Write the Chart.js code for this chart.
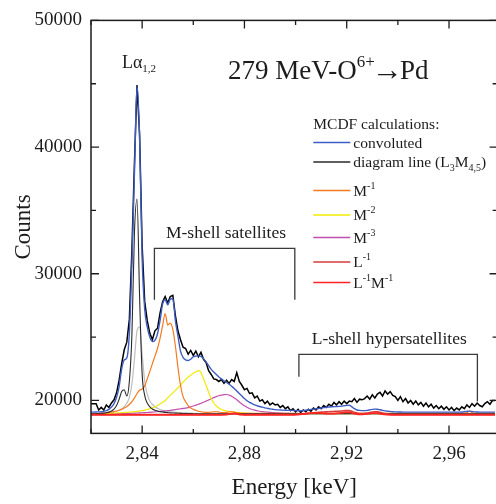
<!DOCTYPE html>
<html>
<head>
<meta charset="utf-8">
<script src="https://cdn.jsdelivr.net/npm/chart.js@4/dist/chart.umd.min.js"></script>
<style>
  html, body { margin: 0; padding: 0; background: #fff; overflow: hidden; }
  #wrap { position: relative; width: 500px; height: 504px; }
</style>
</head>
<body>
<div id="wrap"><canvas id="spectrum"></canvas></div>
<script>
// Energy grid of the spectrum (keV), 1 eV sampling
const energyStart = 2.820;
const energyStep = 0.001;
const energyPoints = 159;
const energy = Array.from({ length: energyPoints }, (_, i) => +(energyStart + i * energyStep).toFixed(3));

// Axis ticks
const energyTickValues = [2.84, 2.88, 2.92, 2.96];
const energyTickLabels = ['2,84', '2,88', '2,92', '2,96'];
const energyMinorTicks = [2.82, 2.86, 2.90, 2.94];
const countTickValues = [20000, 30000, 40000, 50000];
const countTickLabels = ['20000', '30000', '40000', '50000'];
const countMinorTicks = [25000, 35000, 45000];

// Measured spectrum (counts)
const measuredCounts = [
  19750, 19750, 19750, 19250, 19450, 19250, 19650, 19450, 19800, 20050,
  20600, 21600, 22900, 24000, 24600, 26400, 31900, 38800, 44900, 41000,
  32200, 27800, 26300, 25300, 24800, 25500, 25700, 26900, 27800, 28200,
  27700, 28200, 28300, 26700, 25500, 24800, 24200, 24100, 23650, 23950,
  23550, 23900, 23450, 23800, 23250, 23000, 22350, 22050, 21700, 21650,
  21500, 21650, 21350, 21600, 21350, 21650, 21500, 22200, 21500, 21200,
  20850, 20950, 20550, 20600, 20200, 20350, 19950, 20050, 19750, 19950,
  19650, 19800, 19650, 19700, 19450, 19600, 19350, 19500, 19200, 19350,
  19100, 19300, 19050, 19250, 19100, 19300, 19150, 19400, 19250, 19500,
  19350, 19600, 19450, 19700, 19550, 19850, 19650, 19900, 19700, 19950,
  19750, 19950, 19900, 20150, 19850, 20100, 20050, 20150, 20350, 20100,
  20450, 20200, 20500, 20650, 20350, 20750, 20500, 20700, 20400, 20300,
  20000, 20300, 19900, 20150, 19800, 20000, 19700, 19950, 19650, 19850,
  19550, 19800, 19500, 19700, 19400, 19600, 19350, 19550, 19300, 19500,
  19250, 19450, 19200, 19400, 19250, 19500, 19350, 19650, 19450, 19750,
  19550, 19800, 19600, 19500, 19750, 19900, 19700, 20000, 20000
];

// MCDF calculations (counts)
const convoluted = [
  19080, 19080, 19090, 19100, 19110, 19150, 19200, 19300, 19480, 19750,
  20250, 21100, 22500, 23200, 23350, 25300, 30800, 38000, 44850, 40800,
  31200, 27200, 25800, 25000, 24650, 24750, 25250, 26300, 27600, 27950,
  27550, 28000, 28050, 26300, 25100, 23900, 23400, 23200, 23150, 23250,
  23450, 23500, 23520, 23480, 23300, 23050, 22750, 22450, 22250, 22050,
  21850, 21700, 21550, 21420, 21280, 21120, 20950, 20750, 20550, 20350,
  20150, 19980, 19850, 19750, 19650, 19580, 19520, 19470, 19420, 19380,
  19340, 19310, 19280, 19260, 19250, 19240, 19230, 19220, 19220, 19210,
  19200, 19190, 19190, 19200, 19230, 19270, 19300, 19320, 19340, 19370,
  19400, 19430, 19460, 19480, 19500, 19510, 19520, 19530, 19550, 19580,
  19610, 19620, 19500, 19350, 19250, 19220, 19200, 19200, 19220, 19260,
  19300, 19320, 19310, 19270, 19220, 19180, 19150, 19130, 19110, 19100,
  19090, 19090, 19080, 19080, 19080, 19080, 19080, 19080, 19080, 19080,
  19080, 19080, 19080, 19080, 19080, 19080, 19080, 19080, 19080, 19080,
  19080, 19080, 19080, 19080, 19080, 19090, 19110, 19140, 19160, 19130,
  19100, 19090, 19080, 19080, 19080, 19080, 19080, 19080, 19080
];

const diagramLine = [
  18950, 18950, 18960, 18970, 18980, 19000, 19030, 19080, 19170, 19320,
  19600, 20100, 20700, 20850, 20350, 21500, 25200, 33300, 35900, 28200,
  22100, 20400, 19800, 19500, 19330, 19230, 19170, 19120, 19090, 19060,
  19040, 19020, 19010, 19000, 18990, 18980, 18975, 18970, 18965, 18960,
  18955, 18950, 18950, 18950, 18950, 18950, 18950, 18950, 18950, 18950,
  18950, 18950, 18950, 18950, 18950, 18950, 18950, 18950, 18950, 18950,
  18950, 18950, 18950, 18950, 18950, 18950, 18950, 18950, 18950, 18950,
  18950, 18950, 18950, 18950, 18950, 18950, 18950, 18950, 18950, 18950,
  18950, 18950, 18950, 18950, 18950, 18950, 18950, 18950, 18950, 18950,
  18950, 18950, 18950, 18950, 18950, 18950, 18950, 18950, 18950, 18950,
  18950, 18950, 18950, 18950, 18950, 18950, 18950, 18950, 18950, 18950,
  18950, 18950, 18950, 18950, 18950, 18950, 18950, 18950, 18950, 18950,
  18950, 18950, 18950, 18950, 18950, 18950, 18950, 18950, 18950, 18950,
  18950, 18950, 18950, 18950, 18950, 18950, 18950, 18950, 18950, 18950,
  18950, 18950, 18950, 18950, 18950, 18950, 18950, 18950, 18950, 18950,
  18950, 18950, 18950, 18950, 18950, 18950, 18950, 18950, 18950
];

const greyComponent = [
  18950, 18960, 18970, 18980, 18990, 19000, 19020, 19040, 19070, 19100,
  19150, 19230, 19350, 19520, 19780, 20250, 21300, 23300, 25500, 25800,
  23700, 21500, 20500, 19950, 19700, 19500, 19380, 19290, 19220, 19170,
  19140, 19110, 19090, 19070, 19050, 19040, 19030, 19020, 19010, 19000,
  18990, 18980, 18970, 18960, 18955, 18950, 18950, 18950, 18950, 18950,
  18950, 18950, 18950, 18950, 18950, 18950, 18950, 18950, 18950, 18950,
  18950, 18950, 18950, 18950, 18950, 18950, 18950, 18950, 18950, 18950,
  18950, 18950, 18950, 18950, 18950, 18950, 18950, 18950, 18950, 18950,
  18950, 18950, 18950, 18950, 18950, 18950, 18950, 18950, 18950, 18950,
  18950, 18950, 18950, 18950, 18950, 18950, 18950, 18950, 18950, 18950,
  18950, 18950, 18950, 18950, 18950, 18950, 18950, 18950, 18950, 18950,
  18950, 18950, 18950, 18950, 18950, 18950, 18950, 18950, 18950, 18950,
  18950, 18950, 18950, 18950, 18950, 18950, 18950, 18950, 18950, 18950,
  18950, 18950, 18950, 18950, 18950, 18950, 18950, 18950, 18950, 18950,
  18950, 18950, 18950, 18950, 18950, 18950, 18950, 18950, 18950, 18950,
  18950, 18950, 18950, 18950, 18950, 18950, 18950, 18950, 18950
];

const mMinus1 = [
  18950, 18950, 18960, 18970, 18980, 19000, 19020, 19050, 19080, 19120,
  19170, 19230, 19300, 19400, 19520, 19680, 19900, 20200, 20550, 20800,
  20900, 21150, 21700, 22300, 22900, 23500, 24100, 24900, 25900, 26850,
  25950, 26100, 25600, 24300, 22600, 21200, 20300, 19900, 19600, 19400,
  19300, 19220, 19150, 19110, 19080, 19060, 19060, 19080, 19100, 19110,
  19080, 19050, 19040, 19060, 19090, 19110, 19080, 19040, 19010, 18990,
  18980, 18980, 18980, 18980, 18980, 18980, 18980, 18980, 18980, 18980,
  18980, 18980, 18980, 18980, 18980, 18980, 18980, 18980, 18980, 18980,
  18980, 18980, 18980, 18980, 18980, 18980, 18980, 18980, 18980, 18980,
  18980, 18980, 18980, 18980, 18980, 18980, 18980, 18980, 18980, 18980,
  18980, 18980, 18980, 18980, 18980, 18980, 18980, 18980, 18980, 18980,
  18980, 18980, 18980, 18980, 18980, 18980, 18980, 18980, 18980, 18980,
  18980, 18980, 18980, 18980, 18980, 18980, 18980, 18980, 18980, 18980,
  18980, 18980, 18980, 18980, 18980, 18980, 18980, 18980, 18980, 18980,
  18980, 18980, 18980, 18980, 18980, 18980, 18980, 19050, 19150, 19050,
  18990, 18980, 18980, 18980, 18980, 18980, 18980, 18980, 18980
];

const mMinus2 = [
  18950, 18950, 18955, 18960, 18965, 18970, 18975, 18980, 18990, 19000,
  19010, 19020, 19030, 19040, 19060, 19080, 19100, 19120, 19140, 19170,
  19200, 19240, 19290, 19350, 19420, 19500, 19600, 19720, 19850, 20000,
  20200, 20400, 20600, 20800, 21000, 21200, 21450, 21650, 21850, 22000,
  22150, 22270, 22350, 22200, 21700, 21200, 20650, 20150, 19800, 19560,
  19400, 19290, 19220, 19170, 19130, 19100, 19080, 19060, 19040, 19020,
  19000, 18990, 18980, 18970, 18960, 18955, 18950, 18950, 18950, 18950,
  18950, 18950, 18950, 18950, 18950, 18950, 18950, 18950, 18950, 18950,
  18950, 18950, 18950, 18950, 18950, 18950, 18950, 18950, 18950, 18950,
  18950, 18950, 18950, 18950, 18950, 18950, 18950, 18950, 18950, 18950,
  18950, 18950, 18950, 18950, 18950, 18950, 18950, 18950, 18950, 18950,
  18950, 18950, 18950, 18950, 18950, 18950, 18950, 18950, 18950, 18950,
  18950, 18950, 18950, 18950, 18950, 18950, 18950, 18950, 18950, 18950,
  18950, 18950, 18950, 18950, 18950, 18950, 18950, 18950, 18950, 18950,
  18950, 18950, 18950, 18950, 18950, 18950, 18950, 18950, 18950, 18950,
  18950, 18950, 18950, 18950, 18950, 18950, 18950, 18950, 18950
];

const mMinus3 = [
  18950, 18950, 18950, 18950, 18950, 18950, 18950, 18950, 18950, 18950,
  18955, 18960, 18965, 18970, 18975, 18980, 18990, 19000, 19010, 19020,
  19030, 19040, 19050, 19060, 19080, 19100, 19120, 19140, 19160, 19180,
  19200, 19220, 19250, 19280, 19310, 19340, 19370, 19400, 19440, 19500,
  19560, 19630, 19700, 19780, 19860, 19950, 20040, 20130, 20220, 20300,
  20370, 20420, 20460, 20470, 20420, 20330, 20200, 20060, 19880, 19720,
  19580, 19460, 19360, 19290, 19240, 19190, 19150, 19120, 19100, 19080,
  19060, 19040, 19030, 19020, 19010, 19000, 18990, 18980, 18970, 18960,
  18955, 18950, 18950, 18950, 18950, 18950, 18950, 18950, 18950, 18950,
  18950, 18950, 18950, 18950, 18950, 18950, 18950, 18950, 18950, 18950,
  18950, 18950, 18950, 18950, 18950, 18950, 18950, 18950, 18950, 18950,
  18950, 18950, 18950, 18950, 18950, 18950, 18950, 18950, 18950, 18950,
  18950, 18950, 18950, 18950, 18950, 18950, 18950, 18950, 18950, 18950,
  18950, 18950, 18950, 18950, 18950, 18950, 18950, 18950, 18950, 18950,
  18950, 18950, 18950, 18950, 18950, 18950, 18950, 18950, 18950, 18950,
  18950, 18950, 18950, 18950, 18950, 18950, 18950, 18950, 18950
];

const lMinus1 = [
  18890, 18890, 18890, 18890, 18890, 18890, 18890, 18890, 18890, 18890,
  18890, 18890, 18890, 18890, 18890, 18890, 18890, 18890, 18890, 18890,
  18890, 18890, 18890, 18890, 18890, 18890, 18890, 18890, 18890, 18890,
  18890, 18890, 18890, 18890, 18890, 18890, 18890, 18890, 18890, 18890,
  18890, 18890, 18890, 18890, 18890, 18890, 18890, 18890, 18890, 18890,
  18890, 18890, 18890, 18900, 18920, 18940, 18950, 18930, 18900, 18890,
  18890, 18890, 18890, 18890, 18890, 18890, 18890, 18890, 18890, 18890,
  18890, 18890, 18890, 18890, 18890, 18890, 18890, 18890, 18890, 18890,
  18900, 18910, 18920, 18940, 18960, 18980, 19000, 19020, 19040, 19060,
  19080, 19090, 19100, 19110, 19120, 19130, 19140, 19150, 19170, 19190,
  19210, 19200, 19140, 19060, 19000, 18970, 18960, 18980, 19010, 19050,
  19090, 19110, 19100, 19060, 19010, 18960, 18930, 18910, 18900, 18890,
  18890, 18890, 18890, 18890, 18890, 18890, 18890, 18890, 18890, 18890,
  18890, 18890, 18890, 18890, 18890, 18890, 18890, 18890, 18890, 18890,
  18890, 18890, 18890, 18890, 18890, 18890, 18890, 18890, 18890, 18890,
  18890, 18890, 18890, 18890, 18890, 18890, 18890, 18890, 18890
];

const lMinus1mMinus1 = [
  18860, 18860, 18860, 18860, 18860, 18860, 18860, 18860, 18860, 18860,
  18860, 18860, 18860, 18860, 18860, 18860, 18860, 18860, 18860, 18860,
  18860, 18860, 18860, 18860, 18860, 18860, 18860, 18860, 18860, 18860,
  18860, 18860, 18860, 18860, 18860, 18860, 18860, 18860, 18860, 18860,
  18860, 18860, 18860, 18860, 18860, 18860, 18860, 18860, 18860, 18860,
  18860, 18860, 18870, 18890, 18920, 18960, 18980, 18950, 18900, 18870,
  18860, 18860, 18860, 18860, 18860, 18860, 18860, 18860, 18860, 18860,
  18860, 18860, 18860, 18860, 18860, 18860, 18860, 18860, 18860, 18860,
  18870, 18880, 18900, 18920, 18950, 18980, 19000, 19020, 19030, 19020,
  19000, 18980, 18960, 18950, 18950, 18960, 18980, 19000, 19030, 19060,
  19080, 19070, 19020, 18960, 18920, 18900, 18900, 18910, 18930, 18960,
  18990, 19000, 18990, 18960, 18920, 18890, 18870, 18860, 18860, 18860,
  18860, 18860, 18860, 18860, 18860, 18860, 18860, 18860, 18860, 18860,
  18860, 18860, 18860, 18860, 18860, 18860, 18860, 18860, 18860, 18860,
  18860, 18860, 18860, 18860, 18860, 18860, 18860, 18860, 18860, 18860,
  18860, 18860, 18860, 18860, 18860, 18860, 18860, 18860, 18860
];

const serif = '"Liberation Serif", "Times New Roman", serif';
const ink = '#1c1c1c';

const toPoints = values => energy.map((e, i) => ({ x: e, y: values[i] }));

function curve(label, values, color, width, smooth) {
  return {
    label,
    data: toPoints(values),
    borderColor: color,
    borderWidth: width,
    pointRadius: 0,
    fill: false,
    tension: 0,
    cubicInterpolationMode: smooth ? 'monotone' : 'default'
  };
}

// First dataset is painted last (on top)
const datasets = [
  curve('L-1M-1', lMinus1mMinus1, '#ff2424', 1.6, true),
  curve('L-1', lMinus1, '#d83a3a', 1.6, true),
  curve('convoluted', convoluted, '#3d5cc4', 1.4, true),
  curve('diagram line', diagramLine, '#2a2a2a', 1.1, true),
  curve('measured', measuredCounts, '#000000', 1.5, false),
  curve('M-1', mMinus1, '#f47a1f', 1.2, true),
  curve('M-2', mMinus2, '#f2ea00', 1.2, true),
  curve('M-3', mMinus3, '#c24fb0', 1.2, true),
  curve('grey', greyComponent, '#bdbdbd', 1.2, true)
];

// Rich text: parts with optional sub/superscript, own size and kerning
function drawParts(ctx, x, y, parts, size) {
  let cx = x;
  for (const p of parts) {
    const s = p.size || (p.sup || p.sub ? Math.round(size * 0.62) : size);
    const dy = p.sup ? -size * 0.42 : p.sub ? size * 0.25 : (p.dy || 0);
    cx += p.kernBefore || 0;
    ctx.font = `${s}px ${serif}`;
    ctx.fillText(p.t, cx, y + dy);
    cx += ctx.measureText(p.t).width + (p.kernAfter || 0);
  }
  return cx;
}

const legendRows = [
  { ds: 2, parts: [{ t: 'convoluted' }] },
  { ds: 3, parts: [{ t: 'diagram line (L' }, { t: '3', sub: true }, { t: 'M' }, { t: '4,5', sub: true }, { t: ')' }] },
  { ds: 5, parts: [{ t: 'M' }, { t: '-1', sup: true }] },
  { ds: 6, parts: [{ t: 'M' }, { t: '-2', sup: true }] },
  { ds: 7, parts: [{ t: 'M' }, { t: '-3', sup: true }] },
  { ds: 1, parts: [{ t: 'L' }, { t: '-1', sup: true }] },
  { ds: 0, parts: [{ t: 'L' }, { t: '-1', sup: true }, { t: 'M' }, { t: '-1', sup: true }] }
];
const legendRowY = [142.5, 162, 190.5, 215, 237.5, 262, 282.5];

// Region brackets in data coordinates
const brackets = [
  [[2.8448, 27950], [2.8448, 32000], [2.8997, 32000], [2.8997, 27950]],
  [[2.9013, 21870], [2.9013, 23640], [2.9711, 23640], [2.9711, 19920]]
];

const decorations = {
  id: 'decorations',
  afterDatasetsDraw(chart) {
    const { ctx, chartArea: a, scales: { x, y } } = chart;
    ctx.save();

    // frame
    ctx.strokeStyle = ink;
    ctx.lineWidth = 1.5;
    ctx.strokeRect(a.left, a.top, a.right - a.left, a.bottom - a.top);

    // inward tick marks on all four sides
    ctx.lineWidth = 1.3;
    const tick = (vals, len) => {
      for (const v of vals) {
        const px = x.getPixelForValue(v);
        if (px < a.left - 0.5 || px > a.right + 0.5) continue;
        ctx.beginPath();
        ctx.moveTo(px, a.bottom); ctx.lineTo(px, a.bottom - len);
        ctx.moveTo(px, a.top); ctx.lineTo(px, a.top + len);
        ctx.stroke();
      }
    };
    const tickY = (vals, len) => {
      for (const v of vals) {
        const py = y.getPixelForValue(v);
        ctx.beginPath();
        ctx.moveTo(a.left, py); ctx.lineTo(a.left + len, py);
        ctx.moveTo(a.right, py); ctx.lineTo(a.right - len, py);
        ctx.stroke();
      }
    };
    tick(energyTickValues, 8);
    tick(energyMinorTicks, 4.5);
    tickY(countTickValues, 8);
    tickY(countMinorTicks, 5);

    // brackets
    ctx.strokeStyle = '#3a3a3a';
    ctx.lineWidth = 1.3;
    for (const b of brackets) {
      ctx.beginPath();
      b.forEach(([ex, cy], i) => {
        const px = x.getPixelForValue(ex), py = y.getPixelForValue(cy);
        if (i === 0) ctx.moveTo(px, py); else ctx.lineTo(px, py);
      });
      ctx.stroke();
    }

    ctx.fillStyle = ink;
    ctx.textBaseline = 'alphabetic';
    ctx.textAlign = 'left';

    // peak label and title
    drawParts(ctx, x.getPixelForValue(2.8321), y.getPixelForValue(46260),
      [{ t: 'Lα' }, { t: '1,2', sub: true }], 18);
    drawParts(ctx, x.getPixelForValue(2.8736), y.getPixelForValue(45400),
      [{ t: '279 MeV-O' }, { t: '6+', sup: true },
       { t: '→', size: 31, dy: 1, kernBefore: -3, kernAfter: -3 }, { t: 'Pd' }], 27);

    // region labels
    ctx.font = `17.5px ${serif}`;
    ctx.fillText('M-shell satellites', x.getPixelForValue(2.8493), y.getPixelForValue(32857));
    ctx.fillText('L-shell hypersatellites', x.getPixelForValue(2.9063), y.getPixelForValue(24418));

    // legend
    const lx = 313.3;
    ctx.font = `15.5px ${serif}`;
    ctx.fillText('MCDF calculations:', lx, 128.5);
    legendRows.forEach((row, i) => {
      const ly = legendRowY[i];
      const ds = chart.data.datasets[row.ds];
      ctx.strokeStyle = ds.borderColor;
      ctx.lineWidth = 1.3;
      ctx.beginPath();
      ctx.moveTo(lx, ly); ctx.lineTo(lx + 37, ly);
      ctx.stroke();
      ctx.fillStyle = ink;
      drawParts(ctx, lx + 40, ly + 5, row.parts, 15.5);
    });

    ctx.restore();
  }
};

new Chart(document.getElementById('spectrum'), {
  type: 'line',
  data: { datasets },
  options: {
    responsive: true,
    maintainAspectRatio: false,
    animation: false,
    devicePixelRatio: 1,
    layout: { padding: { top: 15, right: 2.4, left: 0, bottom: 0 } },
    plugins: { legend: { display: false }, title: { display: false }, tooltip: { enabled: false } },
    scales: {
      x: {
        type: 'linear',
        min: 2.82,
        max: 2.979,
        afterFit(s) { s.height = 70.6; },
        afterBuildTicks(s) { s.ticks = energyTickValues.map(v => ({ value: v })); },
        grid: { display: false, drawTicks: false },
        border: { display: false },
        ticks: {
          padding: 9,
          color: ink,
          maxRotation: 0,
          autoSkip: false,
          font: { family: serif, size: 19 },
          callback: (v, i) => energyTickLabels[i]
        },
        title: {
          display: true,
          text: 'Energy [keV]',
          color: ink,
          font: { family: serif, size: 23 },
          padding: { top: 0, bottom: 2 }
        }
      },
      y: {
        type: 'linear',
        min: 17400,
        max: 50000,
        afterFit(s) { s.width = 91; },
        afterBuildTicks(s) { s.ticks = countTickValues.map(v => ({ value: v })); },
        grid: { display: false, drawTicks: false },
        border: { display: false },
        ticks: {
          padding: 9,
          color: ink,
          font: { family: serif, size: 19 },
          callback: (v, i) => countTickLabels[i]
        },
        title: {
          display: true,
          text: 'Counts',
          color: ink,
          font: { family: serif, size: 23 },
          padding: { top: 10, bottom: 0 }
        }
      }
    }
  },
  plugins: [decorations]
});
</script>
</body>
</html>
